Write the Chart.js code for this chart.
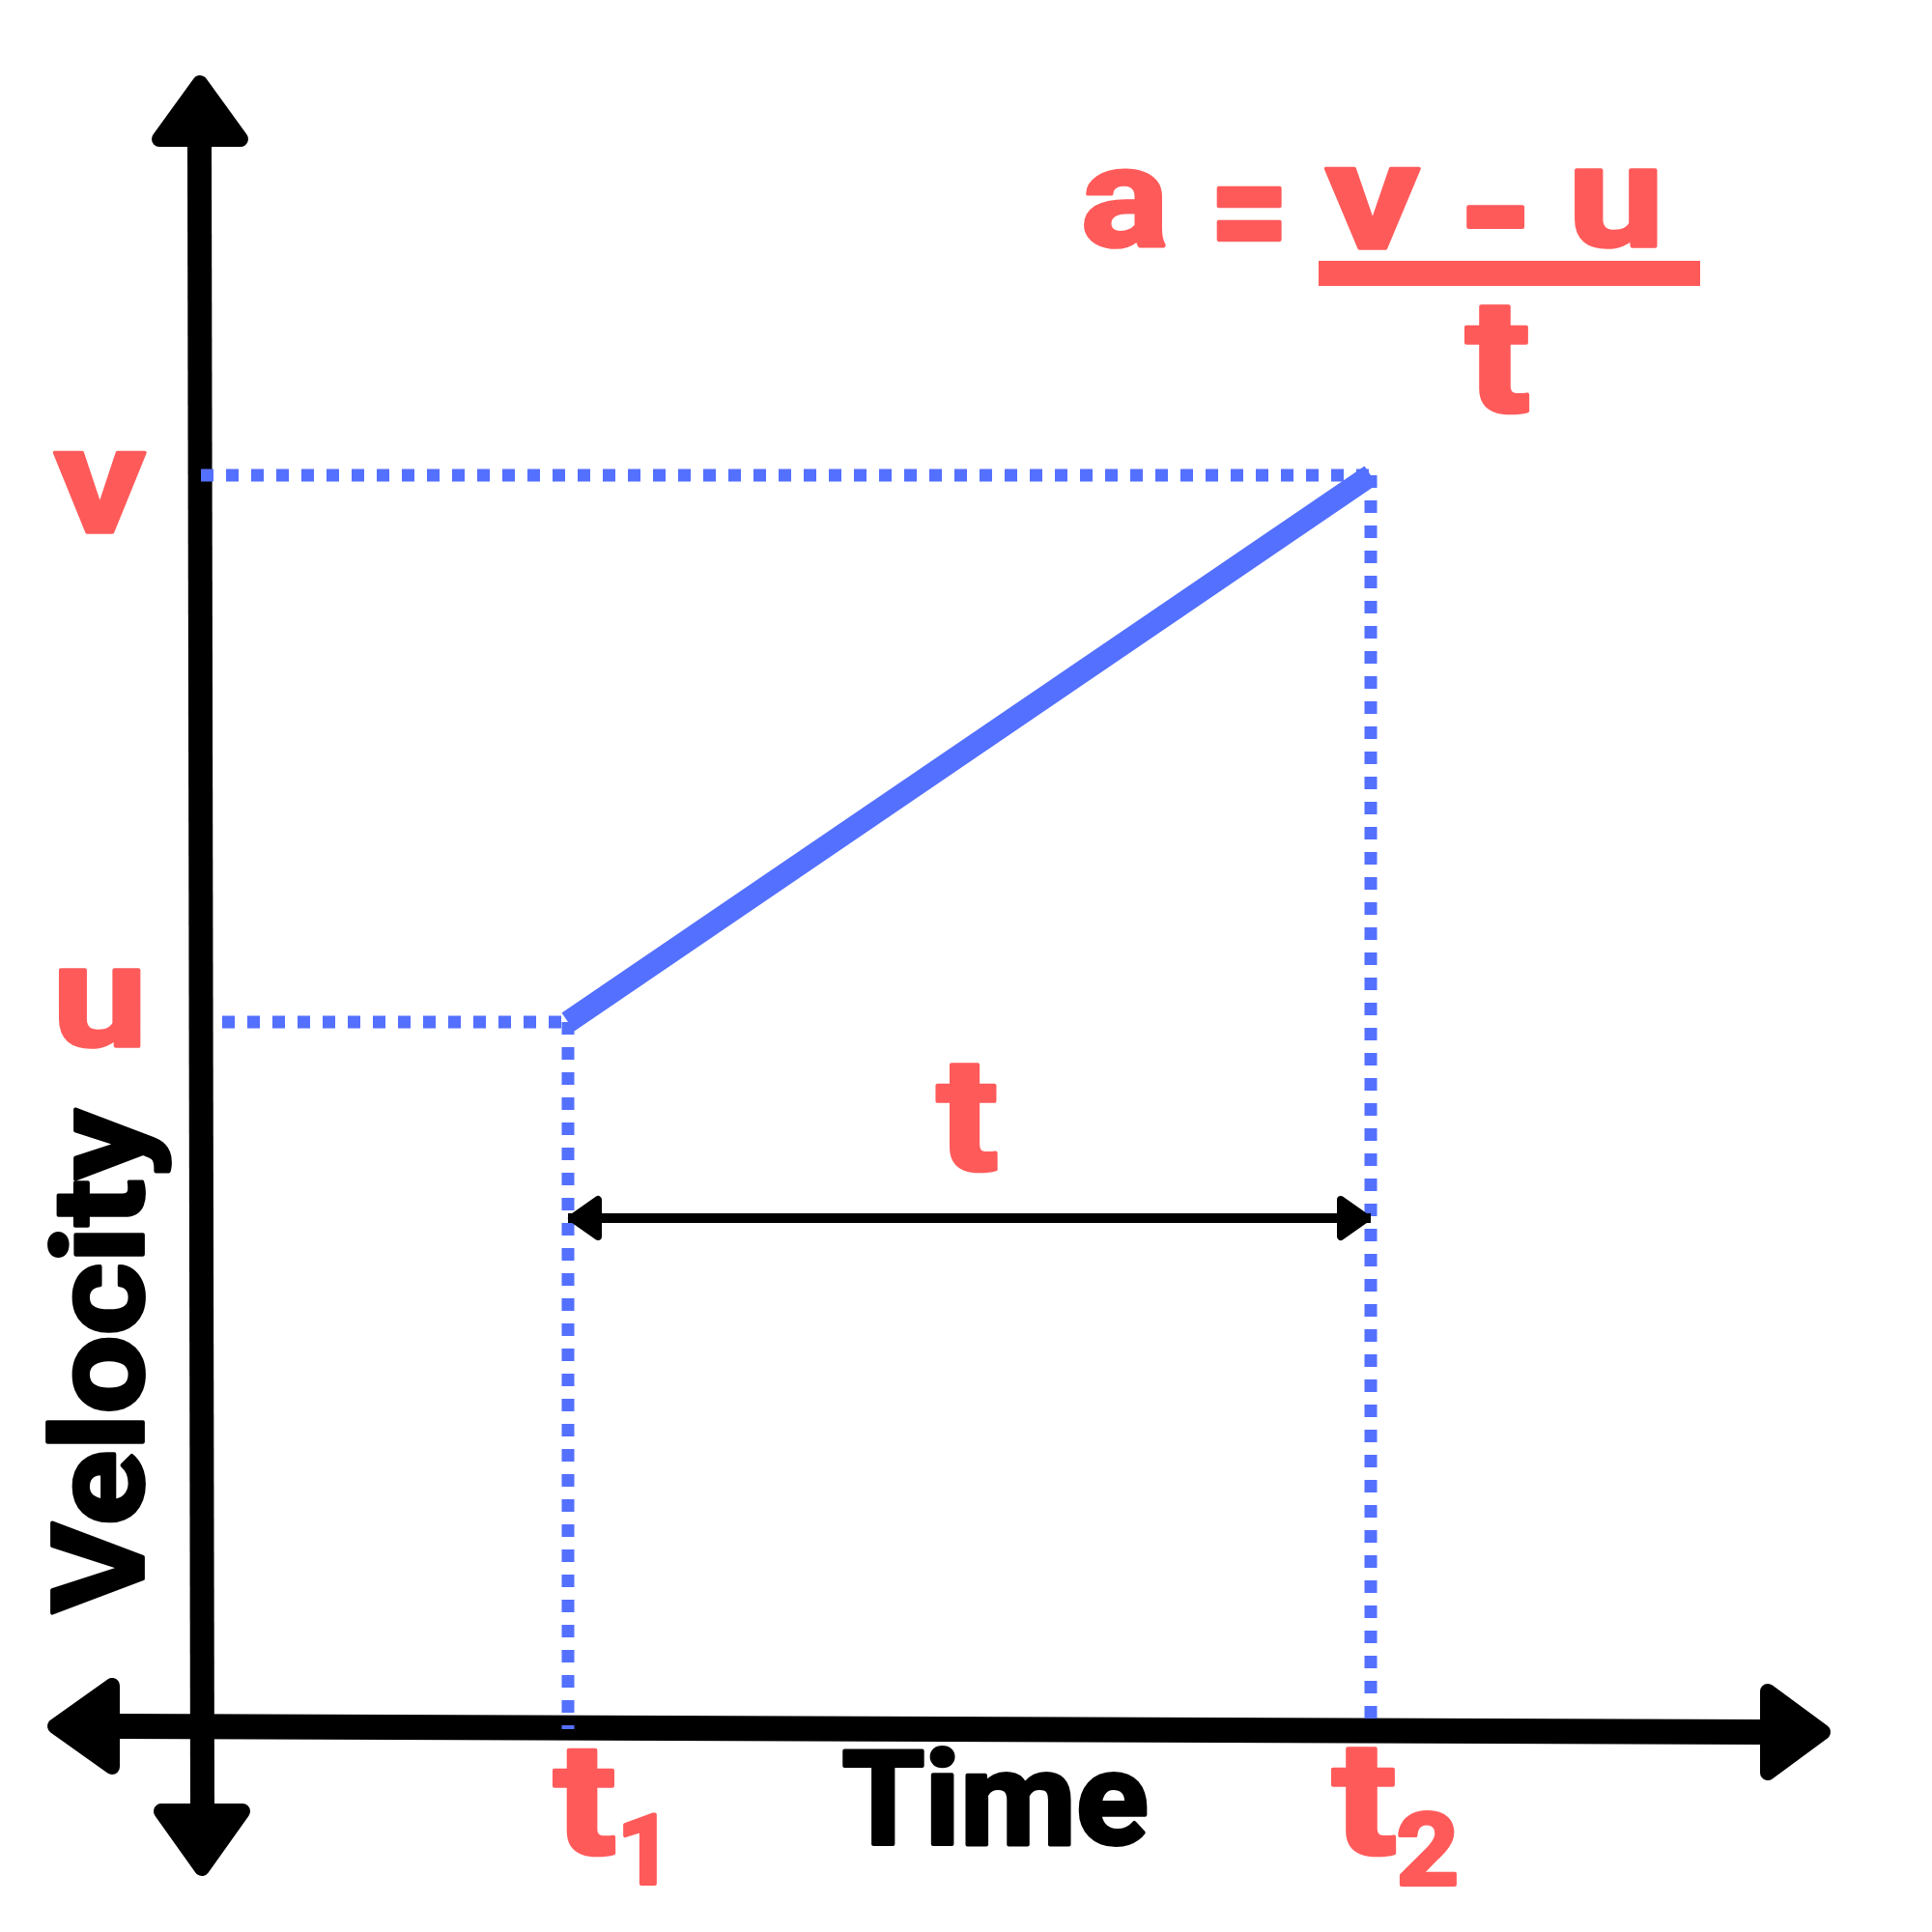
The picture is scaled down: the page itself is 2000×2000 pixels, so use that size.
<!DOCTYPE html>
<html>
<head>
<meta charset="utf-8">
<title>Velocity - time graph</title>
<script src="https://cdn.jsdelivr.net/npm/chart.js@4.4.1/dist/chart.umd.min.js"></script>
<style>
    html, body { margin: 0; padding: 0; background: #fff; }
    #wrap { width: 2000px; height: 2000px; }
</style>
</head>
<body>
<div id="wrap"><canvas id="vtChart" width="2000" height="2000"></canvas></div>
<script>
// values (axis origin = 0,0)
const timeNames = ['t', 't'];
const timeSubs = ['1', '2'];
const timeValues = [380, 1211];
const speedNames = ['u', 'v'];
const speedValues = [732, 1298];
const axisTitles = ['Time', 'Velocity'];
const formulaTop = ['a', '=', 'v', '-', 'u'];
const formulaBottom = 't';

const RED = '#FF5A5A';
const BLUE = '#5470FF';
const FONT = 'Roboto, "DejaVu Sans", sans-serif';

const [t1, t2] = timeValues;
const [u, v] = speedValues;
const spanY = 529;     // where the "t" span arrow sits
const guideGap = 22;   // u guide starts a little off the axis

// draw text so its ink fills a box, with slightly rounded corners
function fitInk(ctx, str, box, color) {
    const r = 2; // rounding stroke, half width in px
    const x0 = box[0] + r, y0 = box[1] + r, x1 = box[2] - r, y1 = box[3] - r;
    ctx.save();
    ctx.font = 'bold 160px ' + FONT;
    ctx.textAlign = 'left';
    ctx.textBaseline = 'alphabetic';
    const m = ctx.measureText(str);
    const w = m.actualBoundingBoxLeft + m.actualBoundingBoxRight;
    const h = m.actualBoundingBoxAscent + m.actualBoundingBoxDescent;
    const sx = (x1 - x0) / w, sy = (y1 - y0) / h;
    ctx.translate(x0, y0);
    ctx.scale(sx, sy);
    ctx.fillStyle = color;
    ctx.strokeStyle = color;
    ctx.lineJoin = 'round';
    ctx.lineWidth = 2 * r / Math.sqrt(sx * sy);
    ctx.fillText(str, m.actualBoundingBoxLeft, m.actualBoundingBoxAscent);
    ctx.strokeText(str, m.actualBoundingBoxLeft, m.actualBoundingBoxAscent);
    ctx.restore();
}

// rounded triangle, tip at (ax, ay) pointing along (dx, dy)
function arrowHead(ctx, ax, ay, dx, dy, len, half, r) {
    const px = -dy, py = dx;
    const bx = ax - dx * (len - r), by = ay - dy * (len - r);
    ctx.beginPath();
    ctx.moveTo(ax - dx * r, ay - dy * r);
    ctx.lineTo(bx + px * (half - r), by + py * (half - r));
    ctx.lineTo(bx - px * (half - r), by - py * (half - r));
    ctx.closePath();
    ctx.lineWidth = 2 * r;
    ctx.lineJoin = 'round';
    ctx.fill();
    ctx.stroke();
}

// hand drawn axes with arrow heads
const axesPlugin = {
    id: 'handAxes',
    beforeDatasetsDraw(chart) {
        const { ctx, scales: { x, y } } = chart;
        const ox = x.getPixelForValue(0), oy = y.getPixelForValue(0);
        ctx.save();
        ctx.strokeStyle = '#000';
        ctx.fillStyle = '#000';
        ctx.lineCap = 'butt';

        // velocity axis
        ctx.lineWidth = 25;
        ctx.beginPath();
        ctx.moveTo(ox + 1.5, oy + 80);
        ctx.lineTo(ox - 1.5, oy - 1640);
        ctx.stroke();
        arrowHead(ctx, ox - 1, oy - 1712, 0, -1, 74, 50, 8);
        arrowHead(ctx, ox + 1, oy + 152, 0, 1, 75, 50, 8);

        // time axis
        ctx.lineWidth = 26;
        ctx.beginPath();
        ctx.moveTo(ox - 88, oy - 3);
        ctx.lineTo(ox + 1617, oy + 3);
        ctx.stroke();
        arrowHead(ctx, ox - 159, oy - 3, -1, 0, 75, 50, 8);
        arrowHead(ctx, ox + 1687, oy + 3, 1, 0, 73, 50, 8);
        ctx.restore();
    }
};

// labels, formula and the span arrow heads
const labelPlugin = {
    id: 'labels',
    afterDatasetsDraw(chart) {
        const { ctx, scales: { x, y } } = chart;
        const p1 = x.getPixelForValue(t1), p2 = x.getPixelForValue(t2);
        const pu = y.getPixelForValue(u), pv = y.getPixelForValue(v);
        const ps = y.getPixelForValue(spanY);

        ctx.save();
        ctx.fillStyle = '#000';
        ctx.strokeStyle = '#000';
        arrowHead(ctx, p1, ps, -1, 0, 35, 23, 4);
        arrowHead(ctx, p2, ps, 1, 0, 35, 23, 4);
        ctx.restore();

        // u and v on the velocity axis
        fitInk(ctx, speedNames[1], [55, pv - 26, 152, pv + 61], RED);
        fitInk(ctx, speedNames[0], [61, pu - 55, 146, pu + 29], RED);

        // t1, t2 under the time axis
        fitInk(ctx, timeNames[0], [p1 - 17, 1809, p1 + 50, 1922], RED);
        fitInk(ctx, timeSubs[0], [p1 + 57, 1877, p1 + 92, 1952], RED);
        fitInk(ctx, timeNames[1], [p2 - 42, 1808, p2 + 27, 1922], RED);
        fitInk(ctx, timeSubs[1], [p2 + 28, 1875, p2 + 89, 1953], RED);

        // t over the span arrow
        const mid = (p1 + p2) / 2;
        fitInk(ctx, 't', [mid - 36, ps - 162, mid + 30, ps - 47], RED);

        // axis titles
        fitInk(ctx, axisTitles[0], [872, 1808, 1188, 1913], '#000');
        ctx.save();
        ctx.translate(112.5, 1409);
        ctx.rotate(-Math.PI / 2);
        fitInk(ctx, axisTitles[1], [-263, -65.5, 263, 65.5], '#000');
        ctx.restore();

        // a = (v - u) / t
        const boxes = [
            [1122, 175, 1207, 259],
            [1259, 194, 1327, 251],
            [1371, 172, 1471, 259],
            [1517, 212, 1579, 237],
            [1630, 175, 1716, 259]
        ];
        formulaTop.forEach((s, i) => fitInk(ctx, s, boxes[i], RED));
        ctx.save();
        ctx.fillStyle = RED;
        ctx.fillRect(1365, 270, 395, 26);
        ctx.restore();
        fitInk(ctx, formulaBottom, [1515, 314, 1584, 429], RED);
    }
};

// dotted blue guide line
function guide(points) {
    return {
        data: points,
        showLine: true,
        borderColor: BLUE,
        borderWidth: 13,
        borderDash: [13, 13],
        borderCapStyle: 'butt',
        pointRadius: 0,
        order: 2
    };
}

const ctx = document.getElementById('vtChart').getContext('2d');
const vtChart = new Chart(ctx, {
    type: 'scatter',
    data: {
        datasets: [
            {
                label: 'velocity',
                data: [{ x: t1, y: u }, { x: t2, y: v }],
                showLine: true,
                borderColor: BLUE,
                borderWidth: 23,
                borderCapStyle: 'butt',
                pointRadius: 0,
                order: 1
            },
            guide([{ x: 0, y: v }, { x: t2, y: v }]),
            guide([{ x: t2, y: v }, { x: t2, y: 0 }]),
            guide([{ x: guideGap, y: u }, { x: t1, y: u }]),
            guide([{ x: t1, y: u }, { x: t1, y: 0 }]),
            {
                label: 'span',
                data: [{ x: t1, y: spanY }, { x: t2, y: spanY }],
                showLine: true,
                borderColor: '#000',
                borderWidth: 10,
                pointRadius: 0,
                order: 0
            }
        ]
    },
    options: {
        responsive: false,
        animation: false,
        devicePixelRatio: 1,
        layout: { padding: 0 },
        plugins: {
            legend: { display: false },
            tooltip: { enabled: false }
        },
        scales: {
            x: { type: 'linear', min: -208, max: 1792, display: false },
            y: { type: 'linear', min: -210, max: 1790, display: false }
        }
    },
    plugins: [axesPlugin, labelPlugin]
});
</script>
</body>
</html>
